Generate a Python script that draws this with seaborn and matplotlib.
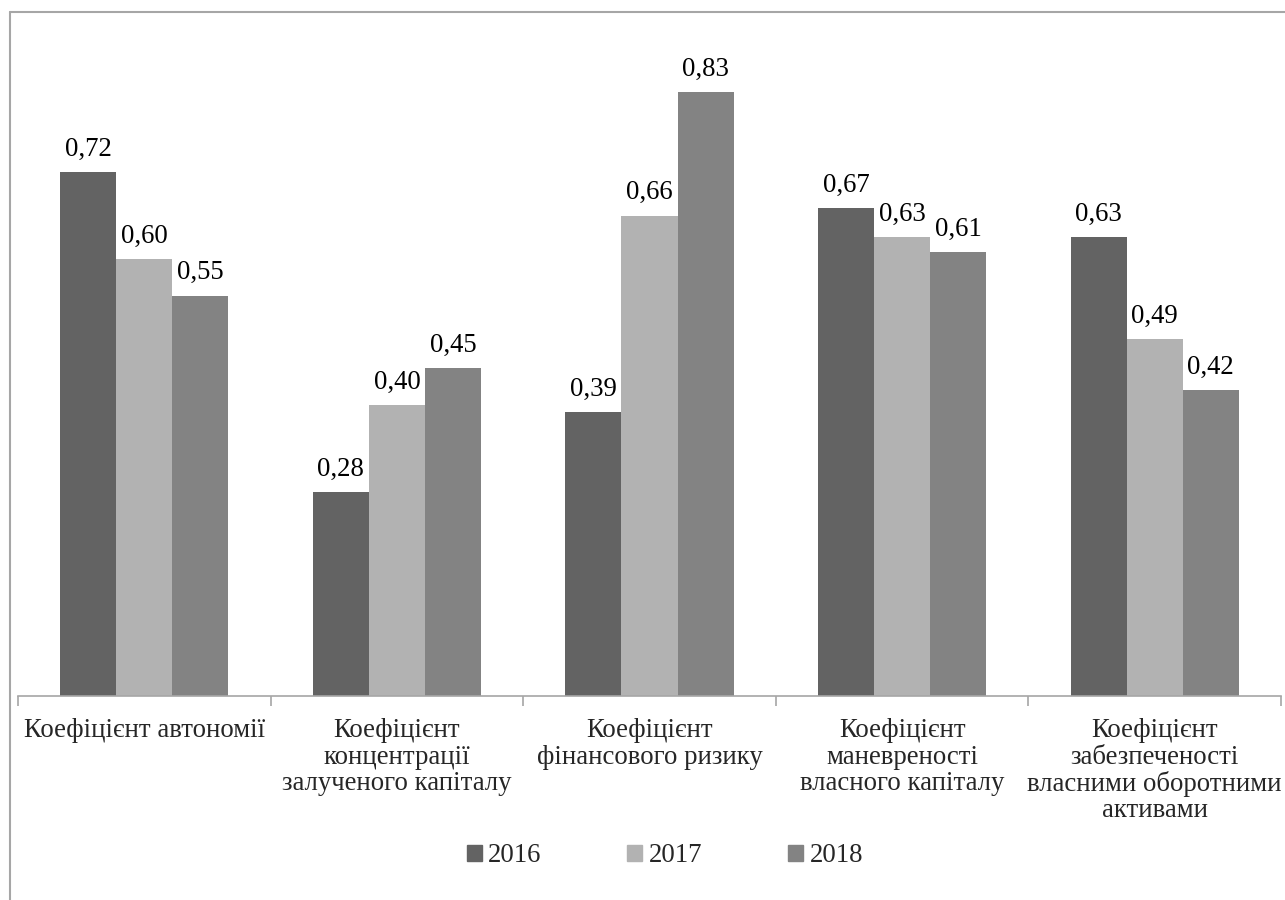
import matplotlib
matplotlib.use("Agg")
import matplotlib.pyplot as plt
from matplotlib.lines import Line2D
import seaborn as sns
import pandas as pd

categories = [
    "Коефіцієнт автономії",
    "Коефіцієнт\nконцентрації\nзалученого капіталу",
    "Коефіцієнт\nфінансового ризику",
    "Коефіцієнт\nманевреності\nвласного капіталу",
    "Коефіцієнт\nзабезпеченості\nвласними оборотними\nактивами",
]
years = ["2016", "2017", "2018"]
values_2016 = [0.72, 0.28, 0.39, 0.67, 0.63]
values_2017 = [0.60, 0.40, 0.66, 0.63, 0.49]
values_2018 = [0.55, 0.45, 0.83, 0.61, 0.42]
colors = ["#636363", "#b2b2b2", "#838383"]

rows = []
for year, vals in zip(years, [values_2016, values_2017, values_2018]):
    for cat, v in zip(categories, vals):
        rows.append({"category": cat, "year": year, "value": v})
df = pd.DataFrame(rows)

sns.set_theme(style="white")
plt.rcParams["font.family"] = ["Liberation Serif", "DejaVu Serif"]

FS = 19.3

fig = plt.figure(figsize=(12.85, 9.0), dpi=100)
ax = fig.add_axes([18 / 1285, 1 - 696 / 900, 1263 / 1285, 655 / 900])

sns.barplot(data=df, x="category", y="value", hue="year", order=categories,
            hue_order=years, palette=colors, width=0.666, saturation=1,
            linewidth=0, ax=ax, legend=False)

for container in ax.containers:
    labels = [f"{b.get_height():.2f}".replace(".", ",") for b in container]
    ax.bar_label(container, labels=labels, padding=7.5, fontsize=FS, color="#000000")

ax.set_xlim(-0.5, len(categories) - 0.5)
ax.set_ylim(0, 0.9)
ax.set_xlabel("")
ax.set_ylabel("")
ax.set_yticks([])
for side in ["top", "right", "left"]:
    ax.spines[side].set_visible(False)
ax.spines["bottom"].set_color("#a6a6a6")
ax.spines["bottom"].set_linewidth(1.2)

ax.set_xticks(range(len(categories)))
ax.set_xticklabels(categories, fontsize=FS, linespacing=1.07, va="top")
ax.tick_params(axis="x", which="major", length=0, pad=16)
ax.set_xticks([i - 0.5 for i in range(len(categories) + 1)], minor=True)
ax.tick_params(axis="x", which="minor", length=7, width=1.2, color="#a6a6a6",
               direction="out", bottom=True)

handles = [plt.Rectangle((0, 0), 1, 1, color=c) for c in colors]
fig.legend(handles, years, loc="center", bbox_to_anchor=(0.5175, 1 - 856 / 900),
           ncol=3, frameon=False, fontsize=FS, handlelength=0.55, handleheight=0.55,
           handletextpad=0.25, columnspacing=3.2)

# outer chart frame
frame_color = "#a6a6a6"
fig.add_artist(Line2D([10 / 1285, 10 / 1285], [0, 1 - 12 / 900],
                      transform=fig.transFigure, color=frame_color, lw=1.5))
fig.add_artist(Line2D([10 / 1285, 1], [1 - 12 / 900, 1 - 12 / 900],
                      transform=fig.transFigure, color=frame_color, lw=1.5))

fig.savefig("out.png", dpi=100, facecolor="white")
